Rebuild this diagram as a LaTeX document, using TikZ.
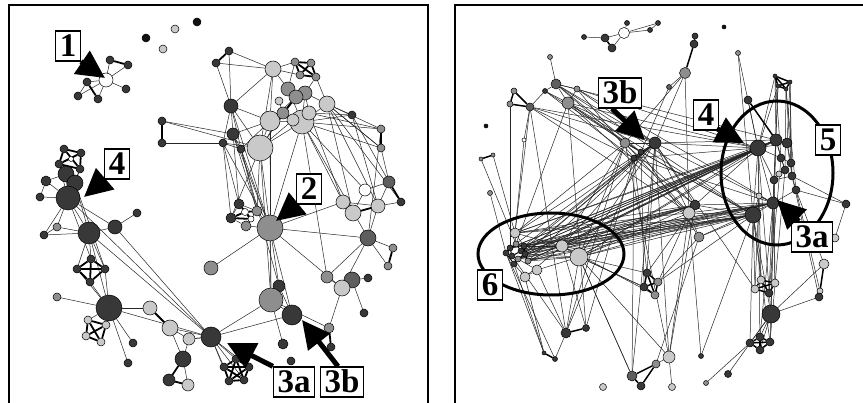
\documentclass[tikz,border=0pt]{standalone}
\usepackage{fontspec}
\setmainfont{Liberation Serif}[BoldFont={Liberation Serif Bold}]
\usetikzlibrary{arrows.meta}
\pgfdeclarelayer{bg}
\pgfsetlayers{bg,main}
\definecolor{bk}{HTML}{111111}
\definecolor{dk}{HTML}{383838}
\definecolor{dm}{HTML}{5E5E5E}
\definecolor{md}{HTML}{8E8E8E}
\definecolor{lt}{HTML}{C9C9C9}
\definecolor{wt}{HTML}{FFFFFF}
\tikzset{
 nd/.style 2 args={circle,draw=black,line width=0.5pt,inner sep=0pt,fill=#1,minimum size=#2pt},
 ed/.style={line width=0.5pt,draw=black!85},
 th/.style={line width=1.8pt,draw=black},
 lab/.style={draw=black,line width=1.3pt,fill=white,font=\fontsize{33}{33}\selectfont\bfseries,inner xsep=4pt,inner ysep=4pt,text height=22pt,text depth=0pt},
 arr/.style={line width=5pt,-{Triangle[length=28pt,width=27pt]}},
 ring/.style={line width=3pt,draw=black},
 frame/.style={line width=1.6pt,draw=black},
}
\newcommand\Nd[5]{\node[nd={#4}{#5}] (#1) at (#2,#3) {};}
\begin{document}
\begin{tikzpicture}[x=1pt,y=-1pt]
\useasboundingbox (0,0) rectangle (863,403);
\begin{pgfonlayer}{bg}
\fill[white] (0,0) rectangle (863,403);
\end{pgfonlayer}
\draw[frame] (9,412) -- (9,5) -- (428,5) -- (428,412);
\draw[frame] (455,412) -- (455,5) -- (872,5);
% ---------------- LEFT PANEL NODES ----------------
\Nd{a1}{146}{38}{bk}{8}\Nd{a2}{163}{49}{lt}{8}\Nd{a3}{175}{29}{lt}{8}\Nd{a4}{197}{22}{bk}{8}
\Nd{w1}{106}{80}{wt}{14}
\Nd{b1}{110}{60}{dk}{8}\Nd{b2}{128}{65}{dk}{8}\Nd{b3}{87}{82}{dk}{8}\Nd{b4}{78}{96}{dk}{8}\Nd{b5}{98}{99}{dk}{8}\Nd{b6}{126}{89}{dk}{8}
\Nd{t1}{229}{51}{dk}{8}\Nd{t2}{216}{63}{dk}{8}\Nd{t3}{273}{69}{lt}{16}
\Nd{t4}{295}{62}{md}{8}\Nd{t5}{311}{63}{md}{8}\Nd{t6}{316}{77}{md}{8}\Nd{t7}{300}{75}{md}{8}
\Nd{t12}{352}{115}{dk}{8}\Nd{t13}{381}{129}{md}{8}\Nd{t14}{381}{148}{md}{8}
\Nd{t15}{231}{106}{dk}{14}
\Nd{t26}{162}{121}{dk}{8}\Nd{t27}{162}{143}{dk}{8}
\Nd{t11}{327}{104}{lt}{16}
\Nd{t20}{302}{122}{lt}{24}
\Nd{t21}{270}{121}{lt}{20}
\Nd{t19}{309}{113}{lt}{14}
\Nd{t18}{293}{120}{lt}{12}
\Nd{t8}{288}{89}{md}{14}\Nd{t9}{305}{93}{md}{14}\Nd{t10}{296}{97}{md}{14}
\Nd{t16}{279}{101}{lt}{8}\Nd{t17}{283}{113}{md}{12}
\Nd{t23}{233}{134}{dk}{12}\Nd{t24}{223}{143}{dk}{8}\Nd{t25}{241}{149}{dk}{8}
\Nd{t22}{260}{148}{lt}{26}
\Nd{m2}{239}{204}{dk}{10}\Nd{m3}{231}{218}{dk}{10}\Nd{m4}{257}{211}{md}{10}\Nd{m5}{246}{226}{md}{10}
\Nd{m6}{245}{212}{wt}{7}\Nd{m7}{251}{219}{wt}{6}
\Nd{m1}{270}{228}{md}{26}
\Nd{m8}{365}{190}{wt}{12}\Nd{m9}{389}{182}{dm}{12}\Nd{m10}{401}{202}{dk}{8}
\Nd{m11}{343}{202}{lt}{14}\Nd{m12}{353}{213}{lt}{16}\Nd{m13}{378}{206}{lt}{14}
\Nd{m14}{368}{238}{dm}{16}\Nd{m15}{393}{248}{md}{8}\Nd{m16}{388}{266}{md}{8}
\Nd{m17}{211}{268}{md}{14}
\Nd{n2}{279}{286}{dk}{12}\Nd{n1}{271}{300}{md}{24}\Nd{n3}{292}{315}{dk}{20}
\Nd{n4}{211}{337}{dk}{20}\Nd{n5}{283}{344}{dk}{10}\Nd{n6}{291}{361}{dk}{8}
\Nd{n7}{329}{328}{md}{10}\Nd{n8}{331}{347}{dk}{8}
\Nd{n9}{327}{277}{md}{12}\Nd{n11}{352}{280}{dm}{16}\Nd{n10}{342}{288}{lt}{16}\Nd{n12}{368}{278}{dk}{8}\Nd{n13}{364}{313}{dk}{8}
\Nd{p1}{224}{367}{dk}{8}\Nd{p2}{236}{359}{dk}{8}\Nd{p3}{249}{367}{dk}{8}\Nd{p4}{244}{380}{dk}{8}\Nd{p5}{229}{381}{dk}{8}
\Nd{q1}{64}{149}{dk}{8}\Nd{q2}{81}{153}{dk}{8}\Nd{q3}{59}{164}{dk}{8}\Nd{q4}{80}{169}{dk}{8}\Nd{q5}{71}{159}{wt}{5}
\Nd{k4}{46}{181}{dk}{10}\Nd{k5}{40}{197}{dk}{8}
\Nd{k3}{66}{174}{dk}{16}\Nd{k2}{75}{183}{dk}{16}\Nd{k1}{68}{198}{dk}{24}
\Nd{k6}{57}{227}{md}{8}\Nd{k7}{44}{235}{dk}{8}\Nd{k8}{89}{233}{dk}{22}\Nd{k9}{115}{227}{dk}{14}\Nd{k10}{137}{213}{dk}{8}
\Nd{x1}{77}{269}{dk}{8}\Nd{x2}{105}{269}{dk}{8}\Nd{x3}{90}{282}{dk}{8}\Nd{x4}{91}{259}{dk}{8}
\Nd{k11}{57}{297}{md}{8}\Nd{k12}{109}{308}{dk}{26}\Nd{k13}{150}{308}{lt}{14}\Nd{k14}{170}{328}{lt}{16}
\Nd{k15}{189}{339}{lt}{12}\Nd{k16}{183}{359}{dk}{16}\Nd{k17}{169}{380}{dk}{12}\Nd{k18}{188}{385}{lt}{12}
\Nd{k19}{133}{343}{dk}{8}\Nd{k20}{128}{363}{dk}{8}
\Nd{y1}{88}{320}{lt}{8}\Nd{y2}{106}{325}{lt}{8}\Nd{y3}{86}{336}{lt}{8}\Nd{y4}{101}{342}{lt}{8}
% ---------------- RIGHT PANEL NODES ----------------
\Nd{r4}{584}{37}{dk}{5}\Nd{r2}{605}{38}{dk}{8}\Nd{r3}{612}{48}{dk}{8}\Nd{r1}{624}{33}{wt}{11}
\Nd{r5}{627}{23}{dk}{5}\Nd{r6}{650}{30}{dk}{5}\Nd{r7}{658}{23}{dk}{5}
\Nd{i1}{724}{27}{bk}{4}\Nd{i2}{486}{126}{bk}{4}
\Nd{s2}{550}{57}{md}{5}\Nd{s1}{556}{84}{dm}{10}\Nd{s3}{577}{89}{md}{6}\Nd{s4}{545}{91}{dk}{5}
\Nd{s5}{568}{103}{md}{12}\Nd{s6}{530}{107}{dm}{8}\Nd{s7}{514}{91}{md}{6}\Nd{s8}{510}{104}{md}{6}
\Nd{s9}{524}{140}{wt}{4}\Nd{s10}{493}{155}{md}{4}\Nd{s11}{481}{159}{md}{4}\Nd{z1}{490}{193}{md}{5}
\Nd{u2}{695}{36}{dk}{6}\Nd{u3}{694}{44}{dk}{8}\Nd{u1}{685}{73}{md}{11}\Nd{u4}{669}{87}{dm}{5}\Nd{u5}{738}{53}{md}{5}
\Nd{u6}{625}{143}{md}{10}\Nd{u7}{655}{143}{dk}{12}\Nd{u8}{641}{152}{dk}{6}\Nd{u9}{634}{158}{dk}{6}\Nd{u10}{748}{100}{dk}{8}
\Nd{hA}{775}{76}{dk}{4}\Nd{hB}{790}{82}{dk}{4}\Nd{hC}{786}{89}{dk}{4}\Nd{hD}{778}{86}{dk}{4}
\Nd{h1}{758}{148}{dk}{16}\Nd{h2}{776}{140}{dk}{12}\Nd{h3}{787}{143}{dk}{10}
\Nd{h4}{781}{158}{dk}{8}\Nd{h5}{791}{163}{dk}{8}\Nd{h6}{785}{170}{dk}{8}\Nd{h7}{779}{174}{lt}{6}
\Nd{h8}{774}{180}{dk}{8}\Nd{h9}{792}{176}{dk}{8}\Nd{h10}{796}{190}{dk}{8}
\Nd{h11}{773}{203}{dk}{12}\Nd{h12}{753}{215}{dk}{16}\Nd{h13}{759}{196}{lt}{6}\Nd{h14}{846}{204}{dk}{8}
\Nd{h16}{835}{238}{lt}{8}
\Nd{v1}{695}{205}{dk}{10}\Nd{v2}{689}{213}{lt}{12}\Nd{v3}{699}{237}{md}{10}
\Nd{e6}{510}{248}{dk}{6}\Nd{e7}{516}{244}{md}{6}\Nd{e8}{521}{251}{dk}{6}\Nd{e9}{512}{256}{dk}{6}\Nd{e10}{518}{259}{md}{6}
\Nd{e11}{525}{254}{dk}{6}\Nd{e12}{506}{253}{dk}{6}\Nd{e13}{514}{264}{dk}{6}\Nd{e14}{524}{246}{dk}{6}\Nd{e15}{528}{261}{md}{6}
\Nd{e1}{515}{233}{lt}{10}\Nd{e2}{562}{246}{lt}{12}\Nd{e3}{579}{257}{lt}{18}\Nd{e4}{537}{270}{lt}{10}\Nd{e5}{525}{277}{lt}{10}
\Nd{g1}{824}{264}{lt}{10}\Nd{g4}{820}{291}{lt}{6}\Nd{g2}{819}{297}{dk}{8}
\Nd{gx1}{761}{280}{lt}{8}\Nd{gx2}{775}{283}{lt}{8}\Nd{gx3}{755}{289}{lt}{8}\Nd{gx4}{769}{293}{dk}{8}
\Nd{g3}{771}{314}{dk}{18}
\Nd{gy1}{750}{343}{dk}{8}\Nd{gy2}{760}{337}{dk}{8}\Nd{gy3}{770}{342}{dk}{8}\Nd{gy4}{760}{350}{dk}{8}
\Nd{gz1}{647}{273}{dk}{8}\Nd{gz2}{658}{282}{md}{8}\Nd{gz3}{644}{287}{dk}{8}\Nd{gz4}{655}{295}{md}{8}
\Nd{f1}{566}{333}{dk}{10}\Nd{f2}{586}{328}{dk}{7}\Nd{f3}{544}{353}{dk}{4}\Nd{f4}{555}{359}{dk}{5}
\Nd{f5}{669}{357}{lt}{12}\Nd{f6}{656}{364}{md}{8}\Nd{f7}{632}{376}{dm}{10}\Nd{f8}{641}{386}{dk}{8}
\Nd{f9}{603}{387}{lt}{7}\Nd{f10}{672}{387}{lt}{7}\Nd{f11}{706}{383}{md}{5}\Nd{f12}{728}{374}{dk}{7}\Nd{f13}{701}{356}{dk}{5}
% ---------------- EDGES ----------------
\begin{pgfonlayer}{bg}
\foreach \a/\b in {w1/b1,w1/b2,w1/b3,w1/b4,w1/b5,w1/b6,b3/b4,
 t1/t3,t2/t3,t1/t15,t2/t15,t3/t15,t3/t22,t3/t4,t3/t8,t3/t21,t8/t4,t9/t6,t10/t17,t11/t12,t11/t13,t11/t20,t12/t20,t13/t20,t14/t20,t11/t14,t15/t21,t15/t22,t15/t23,t15/t24,t15/t25,t21/t22,t22/t26,t26/t23,t27/t24,t20/t22,t16/t17,t17/t18,t18/t20,t19/t20,t21/t20,t21/t10,t8/t9,t9/t10,t8/t10,t17/t21,t20/t8,t20/t9,t22/t10,t22/t17,t23/t25,t24/t25,t21/t23,t3/t7,t11/t6,t9/t11,t19/t9,t12/t19,t13/t19,t14/t11,t22/t18,t21/t25,t22/t24,
 t22/m1,t15/m1,t23/m1,t20/m1,t21/m1,t22/m4,t22/m3,t24/m1,t25/m1,t20/m8,t20/m14,t11/m12,t11/m13,t12/m13,t14/m9,t20/n9,t22/n1,t23/m2,t24/m3,t20/m11,t11/m10,t13/m14,t25/m4,t21/n1,t25/n2,t24/m2,t23/m4,t19/m11,t12/m9,
 m1/m17,m1/m11,m1/n1,m1/n2,m1/n3,m1/m14,m1/m5,m1/m4,m2/m3,m2/m4,m3/m5,m4/m5,m11/m12,m11/m13,m8/m9,m9/m13,m13/m14,m14/m15,m14/m16,m14/n10,m14/n9,m13/m10,m8/m12,m1/n10,
 n9/n10,n10/n11,n11/n12,n11/n13,n10/n7,n1/n4,n3/n4,n1/n5,n1/n3,n2/n1,n2/n3,n4/p1,n4/p2,n4/p3,n4/p4,n4/p5,n4/k14,n4/k15,n4/k8,n4/k12,n4/k9,n4/k1,n1/n7,
 k1/k2,k1/k3,k2/k3,k1/k4,k1/k5,k4/k5,k3/k4,k1/q3,k1/q4,k2/q4,k3/q3,k1/k8,k2/k8,k1/k9,k1/k6,k1/k7,k6/k7,k6/k8,k7/k8,k8/k9,k9/k10,k8/x1,k8/x2,k8/x4,x3/k12,x2/k12,x1/k12,k8/k12,k12/k11,k12/k13,k12/y1,k12/y2,k12/k19,k12/k20,k14/k15,k14/k16,k15/k16,k15/n4,k16/k18,k1/x4,k2/x2}
 \draw[ed] (\a) -- (\b);
\foreach \a/\b in {b1/b2,b3/b5,t1/t2,t4/t5,t4/t6,t4/t7,t5/t6,t5/t7,t6/t7,t26/t27,t13/t14,t10/t17,t17/t18,
 m2/m6,m6/m4,m3/m7,m7/m5,m6/m7,m2/m7,m3/m6,m9/m10,m15/m16,m12/m13,n7/n8,
 p1/p2,p1/p3,p1/p4,p1/p5,p2/p3,p2/p4,p2/p5,p3/p4,p3/p5,p4/p5,
 q1/q2,q1/q3,q1/q4,q2/q3,q2/q4,q3/q4,x1/x2,x1/x3,x1/x4,x2/x3,x2/x4,x3/x4,
 y1/y2,y1/y3,y1/y4,y2/y3,y2/y4,y3/y4,k13/k14,k16/k17,k17/k18}
 \draw[th] (\a) -- (\b);
% right panel
\foreach \a/\b in {r4/r2,r2/r1,r3/r1,r1/r5,r1/r6,r6/r7,r1/r7,
 u1/u4,u1/u7,u1/v2,u1/u6,u5/h1,u5/h12,u4/u8,
 s2/s1,s1/s3,s1/s4,s1/s5,s3/s5,s4/s6,s4/s5,s6/s9,s9/e1,s5/u6,s5/u7,s5/u8,s1/u7,s1/u8,s3/u7,s5/h1,s3/u9,s6/u9,s4/u8,s10/e1,s11/e7,z1/e12,s5/v2,s1/h2,
 s1/h12,s5/h12,s3/h1,s6/u7,s6/h1,s4/v1,s6/f1,s5/f2,s3/h11,s1/v1,s6/v2,
 u6/u7,u6/u8,u7/u8,u7/u9,u8/u9,u7/h1,u7/h2,u9/h1,u8/h12,u7/v1,u7/v2,u6/v2,u6/e3,u6/e2,u9/gz1,u7/f5,u8/f1,u9/f2,u6/e1,u8/v3,u6/h12,u9/h11,u7/h11,
 u8/gz3,u9/f7,u7/gx3,u6/f1,
 h1/h2,h1/h3,h2/h3,h1/h4,h2/h4,h3/h5,h4/h5,h4/h6,h5/h6,h6/h7,h6/h8,h6/h9,h7/h8,h8/h9,h9/h10,h8/h11,h10/h11,h11/h12,h1/h12,h1/h11,h11/h13,h12/h13,h9/h14,h10/h14,h3/h9,h2/h6,h1/h8,
 hA/h4,hB/h5,hC/h6,hD/h8,hA/h1,hB/h9,hC/h10,hD/h11,hA/h2,hB/h3,hC/h9,hD/h1,u10/h1,
 h12/gx1,h12/gx3,h11/gx2,h11/gx4,h1/gx1,h10/g1,h12/g3,h11/g3,h1/g3,h12/gy1,h11/gy2,h12/gy3,h9/g2,h14/h16,h10/g4,h13/gx3,h1/gy4,
 h8/gx2,h4/gx4,h2/g3,h6/gy3,
 g3/gy1,g3/gy2,g3/gy3,g3/gy4,g3/g2,g3/g1,g3/f12,gy1/f11,
 v1/v2,v2/v3,v1/h1,v1/h12,v2/h12,v3/h11,v1/f5,v2/f13,v3/gz2,v2/e3,v3/h12,v1/h11,f13/h12,
 e1/e7,e2/e8,e3/e11,e3/e10,e4/e10,e5/e13,e4/e5,e2/e3,e1/e2,e3/e4,e5/e2,e1/e14,e2/e14,e3/e15,
 e3/gz1,e3/gz3,e3/f1,e2/f2,e4/f1,e5/f3,e13/f3,e12/f4,e9/f1,e3/f5,e3/f7,f1/f4,e12/f3,
 e1/s6,e7/s5,e6/s8,
 gz1/u7,gz2/v2,gz3/e3,gz4/e2,gz2/h12,gz1/v1,
 f5/f6,f5/f10,f5/v2,f5/u6,f7/e3,f7/u7,f6/v3}
 \draw[ed] (\a) -- (\b);
\foreach \a in {e6,e8,e10,e11,e14,e15,e2,e3,e1}
 \foreach \b in {h1,h11,h12,u7,v1,h2}
  \draw[ed] (\a) -- (\b);
\foreach \a/\b in {e6/e7,e7/e8,e8/e9,e9/e10,e10/e11,e11/e14,e12/e9,e13/e10,e15/e11,e6/e12,e14/e7,e13/e12,e6/e9,e8/e11,e7/e12}
 \draw[line width=1pt,draw=black] (\a) -- (\b);
\foreach \a/\b in {r2/r3,u2/u3,u3/u1,s6/s8,s7/s8,s6/s7,s10/s11,u10/h2,
 hA/hB,hB/hC,hC/hD,hD/hA,hA/hC,hB/hD,
 gx1/gx2,gx1/gx3,gx1/gx4,gx2/gx3,gx2/gx4,gx3/gx4,
 gy1/gy2,gy1/gy3,gy1/gy4,gy2/gy3,gy2/gy4,gy3/gy4,
 gz1/gz2,gz1/gz3,gz1/gz4,gz2/gz3,gz2/gz4,gz3/gz4,
 f1/f2,f3/f4,f6/f7,f7/f8,f6/f8,g1/g4}
 \draw[line width=1.5pt,draw=black] (\a) -- (\b);
\end{pgfonlayer}
% ---------------- RINGS ----------------
\draw[ring] (777,173) ellipse [x radius=56, y radius=72];
\draw[ring] (551,254) ellipse [x radius=73, y radius=41];
% ---------------- LABELS AND ARROWS ----------------
\node[lab] (lab1) at (68,46) {1};
\node[lab] (lab4) at (117,164) {4};
\node[lab] (lab2) at (309,189) {2};
\node[lab] (lab3a) at (294,382) {3a};
\node[lab] (lab3b) at (342,382) {3b};
\node[lab] (lab3br) at (620,93) {3b};
\node[lab] (lab4r) at (706,115) {4};
\node[lab] (lab5) at (828,140) {5};
\node[lab] (lab3ar) at (812,237) {3a};
\node[lab] (lab6) at (490,285) {6};
\coordinate (tip1) at (105,78);
\coordinate (tip4) at (84,197);
\coordinate (tip2) at (276,221);
\coordinate (tip3a) at (227,343);
\coordinate (tip3b) at (302,320);
\coordinate (tip3br) at (645,140);
\coordinate (tip4r) at (744,143);
\coordinate (tip3ar) at (777,200);
\draw[arr] (lab1.south east) -- (tip1);
\draw[arr] (lab4.south west) -- (tip4);
\draw[arr] (lab2.south west) -- (tip2);
\draw[arr] (lab3a.north west) -- (tip3a);
\draw[arr] ([xshift=-4pt]lab3b.north) -- (tip3b);
\draw[arr] ([xshift=-8pt]lab3br.south) -- (tip3br);
\draw[arr] ([xshift=-2pt,yshift=2pt]lab4r.south east) -- (tip4r);
\draw[arr] ([xshift=8pt]lab3ar.north west) -- (tip3ar);
\end{tikzpicture}
\end{document}
